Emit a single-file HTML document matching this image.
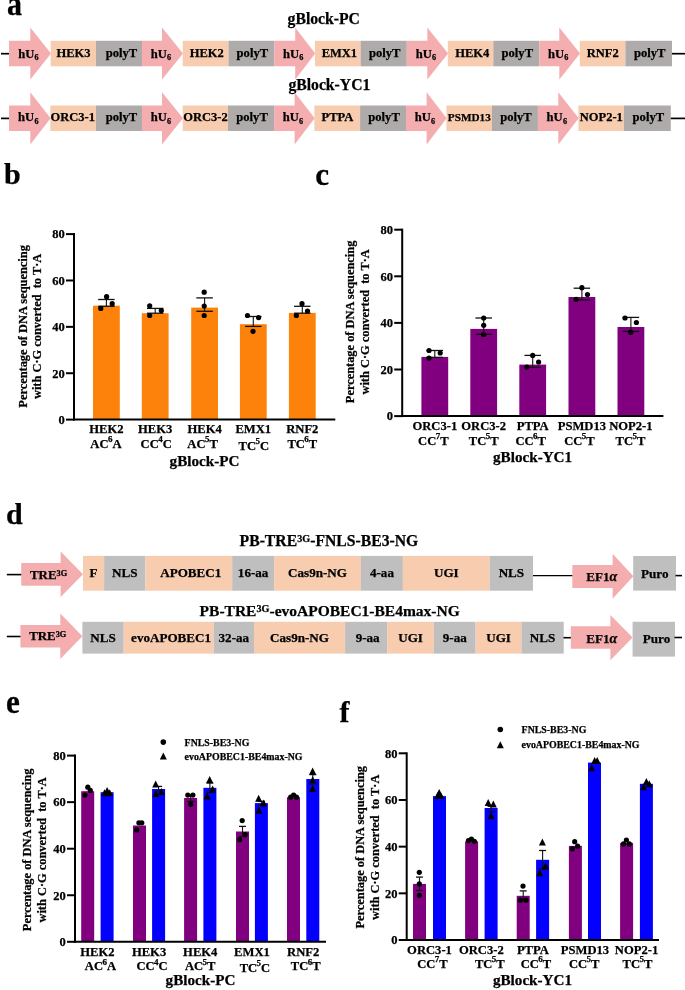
<!DOCTYPE html>
<html><head><meta charset="utf-8"><style>
html,body{margin:0;padding:0;background:#fff;}
svg{display:block;will-change:transform;font-family:"Liberation Serif",serif;font-weight:bold;}
text{font-family:"Liberation Serif",serif;font-weight:bold;stroke:#000;stroke-width:0.25px;paint-order:stroke;}
</style></head><body>
<svg width="685" height="990" viewBox="0 0 685 990">
<rect width="685" height="990" fill="#fff"/>
<text transform="translate(7,14.7) scale(1,1.09)" x="0" y="0" font-size="30">a</text>
<text x="287.60" y="24.10" font-size="15.7" text-anchor="start" >gBlock-PC</text>
<text x="288.40" y="90.10" font-size="15.7" text-anchor="start" >gBlock-YC1</text>
<line x1="1.00" y1="53.70" x2="9.50" y2="53.70" stroke="#000" stroke-width="1.7"/>
<line x1="671.50" y1="53.70" x2="685.00" y2="53.70" stroke="#000" stroke-width="1.7"/>
<polygon points="9.00,40.80 30.30,40.80 30.30,27.50 51.00,53.55 30.30,79.60 30.30,66.30 9.00,66.30" fill="#F4AEAF"/>
<rect x="50.70" y="40.80" width="45.30" height="25.50" fill="#F7CCAF"/>
<rect x="96.00" y="40.80" width="46.00" height="25.50" fill="#AFABAB"/>
<text x="28.50" y="57.80" font-size="12.6" text-anchor="middle">hU<tspan font-size="8.2" dy="2.4" dx="0.2">6</tspan></text>
<text x="73.50" y="56.60" font-size="12.5" text-anchor="middle" >HEK3</text>
<text x="121.50" y="56.60" font-size="12.6" text-anchor="middle" >polyT</text>
<polygon points="142.00,40.80 162.00,40.80 162.00,27.50 183.00,53.55 162.00,79.60 162.00,66.30 142.00,66.30" fill="#F4AEAF"/>
<rect x="182.70" y="40.80" width="45.80" height="25.50" fill="#F7CCAF"/>
<rect x="228.50" y="40.80" width="45.70" height="25.50" fill="#AFABAB"/>
<text x="161.00" y="57.80" font-size="12.6" text-anchor="middle">hU<tspan font-size="8.2" dy="2.4" dx="0.2">6</tspan></text>
<text x="206.75" y="56.60" font-size="12.5" text-anchor="middle" >HEK2</text>
<text x="252.35" y="56.60" font-size="12.6" text-anchor="middle" >polyT</text>
<polygon points="274.20,40.80 295.20,40.80 295.20,27.50 315.20,53.55 295.20,79.60 295.20,66.30 274.20,66.30" fill="#F4AEAF"/>
<rect x="314.90" y="40.80" width="45.70" height="25.50" fill="#F7CCAF"/>
<rect x="360.60" y="40.80" width="46.20" height="25.50" fill="#AFABAB"/>
<text x="293.20" y="57.80" font-size="12.6" text-anchor="middle">hU<tspan font-size="8.2" dy="2.4" dx="0.2">6</tspan></text>
<text x="339.40" y="56.60" font-size="12.5" text-anchor="middle" >EMX1</text>
<text x="384.70" y="56.60" font-size="12.6" text-anchor="middle" >polyT</text>
<polygon points="406.80,40.80 427.30,40.80 427.30,27.50 448.10,53.55 427.30,79.60 427.30,66.30 406.80,66.30" fill="#F4AEAF"/>
<rect x="447.80" y="40.80" width="45.50" height="25.50" fill="#F7CCAF"/>
<rect x="493.30" y="40.80" width="46.00" height="25.50" fill="#AFABAB"/>
<text x="425.95" y="57.80" font-size="12.6" text-anchor="middle">hU<tspan font-size="8.2" dy="2.4" dx="0.2">6</tspan></text>
<text x="472.20" y="56.60" font-size="12.5" text-anchor="middle" >HEK4</text>
<text x="517.30" y="56.60" font-size="12.6" text-anchor="middle" >polyT</text>
<polygon points="539.30,40.80 559.30,40.80 559.30,27.50 580.10,53.55 559.30,79.60 559.30,66.30 539.30,66.30" fill="#F4AEAF"/>
<rect x="579.80" y="40.80" width="45.60" height="25.50" fill="#F7CCAF"/>
<rect x="625.40" y="40.80" width="46.60" height="25.50" fill="#AFABAB"/>
<text x="558.20" y="57.80" font-size="12.6" text-anchor="middle">hU<tspan font-size="8.2" dy="2.4" dx="0.2">6</tspan></text>
<text x="602.75" y="56.60" font-size="12.5" text-anchor="middle" >RNF2</text>
<text x="649.70" y="56.60" font-size="12.6" text-anchor="middle" >polyT</text>
<line x1="1.00" y1="118.40" x2="9.50" y2="118.40" stroke="#000" stroke-width="1.7"/>
<line x1="670.30" y1="118.40" x2="685.00" y2="118.40" stroke="#000" stroke-width="1.7"/>
<polygon points="9.00,105.50 30.30,105.50 30.30,92.20 50.60,118.30 30.30,144.40 30.30,131.00 9.00,131.00" fill="#F4AEAF"/>
<rect x="50.30" y="105.50" width="45.70" height="25.50" fill="#F7CCAF"/>
<rect x="96.00" y="105.50" width="46.00" height="25.50" fill="#AFABAB"/>
<text x="28.30" y="121.40" font-size="12.6" text-anchor="middle">hU<tspan font-size="8.2" dy="2.4" dx="0.2">6</tspan></text>
<text x="72.70" y="121.30" font-size="12.5" text-anchor="middle" >ORC3-1</text>
<text x="121.50" y="121.30" font-size="12.6" text-anchor="middle" >polyT</text>
<polygon points="142.00,105.50 162.00,105.50 162.00,92.20 183.00,118.30 162.00,144.40 162.00,131.00 142.00,131.00" fill="#F4AEAF"/>
<rect x="182.70" y="105.50" width="45.30" height="25.50" fill="#F7CCAF"/>
<rect x="228.00" y="105.50" width="46.10" height="25.50" fill="#AFABAB"/>
<text x="161.00" y="121.40" font-size="12.6" text-anchor="middle">hU<tspan font-size="8.2" dy="2.4" dx="0.2">6</tspan></text>
<text x="205.50" y="121.30" font-size="12.5" text-anchor="middle" >ORC3-2</text>
<text x="252.05" y="121.30" font-size="12.6" text-anchor="middle" >polyT</text>
<polygon points="274.10,105.50 294.60,105.50 294.60,92.20 314.70,118.30 294.60,144.40 294.60,131.00 274.10,131.00" fill="#F4AEAF"/>
<rect x="314.40" y="105.50" width="45.70" height="25.50" fill="#F7CCAF"/>
<rect x="360.10" y="105.50" width="45.90" height="25.50" fill="#AFABAB"/>
<text x="292.90" y="121.40" font-size="12.6" text-anchor="middle">hU<tspan font-size="8.2" dy="2.4" dx="0.2">6</tspan></text>
<text x="337.40" y="121.30" font-size="12.5" text-anchor="middle" >PTPA</text>
<text x="384.05" y="121.30" font-size="12.6" text-anchor="middle" >polyT</text>
<polygon points="406.00,105.50 426.60,105.50 426.60,92.20 446.70,118.30 426.60,144.40 426.60,131.00 406.00,131.00" fill="#F4AEAF"/>
<rect x="446.40" y="105.50" width="45.50" height="25.50" fill="#F7CCAF"/>
<rect x="491.90" y="105.50" width="46.00" height="25.50" fill="#AFABAB"/>
<text x="424.85" y="121.40" font-size="12.6" text-anchor="middle">hU<tspan font-size="8.2" dy="2.4" dx="0.2">6</tspan></text>
<text x="469.30" y="121.30" font-size="11.2" text-anchor="middle" >PSMD13</text>
<text x="515.90" y="121.30" font-size="12.6" text-anchor="middle" >polyT</text>
<polygon points="537.90,105.50 558.30,105.50 558.30,92.20 578.70,118.30 558.30,144.40 558.30,131.00 537.90,131.00" fill="#F4AEAF"/>
<rect x="578.40" y="105.50" width="45.50" height="25.50" fill="#F7CCAF"/>
<rect x="623.90" y="105.50" width="46.90" height="25.50" fill="#AFABAB"/>
<text x="556.80" y="121.40" font-size="12.6" text-anchor="middle">hU<tspan font-size="8.2" dy="2.4" dx="0.2">6</tspan></text>
<text x="601.30" y="121.30" font-size="12.5" text-anchor="middle" >NOP2-1</text>
<text x="648.35" y="121.30" font-size="12.6" text-anchor="middle" >polyT</text>
<text x="4.00" y="184.20" font-size="30" text-anchor="start" >b</text>
<rect x="93.00" y="305.70" width="26.80" height="113.90" fill="#FD820B"/>
<line x1="106.40" y1="299.50" x2="106.40" y2="306.30" stroke="#111" stroke-width="1.1"/>
<line x1="98.15" y1="299.50" x2="114.65" y2="299.50" stroke="#111" stroke-width="1.3"/>
<line x1="98.15" y1="306.30" x2="114.65" y2="306.30" stroke="#111" stroke-width="1.3"/>
<circle cx="106.60" cy="296.70" r="2.6" fill="#000"/>
<circle cx="112.20" cy="303.70" r="2.6" fill="#000"/>
<circle cx="100.80" cy="308.40" r="2.6" fill="#000"/>
<rect x="141.80" y="313.20" width="26.80" height="106.40" fill="#FD820B"/>
<line x1="155.20" y1="308.40" x2="155.20" y2="313.20" stroke="#111" stroke-width="1.1"/>
<line x1="146.95" y1="308.40" x2="163.45" y2="308.40" stroke="#111" stroke-width="1.3"/>
<line x1="146.95" y1="313.20" x2="163.45" y2="313.20" stroke="#111" stroke-width="1.3"/>
<circle cx="149.70" cy="305.80" r="2.6" fill="#000"/>
<circle cx="161.30" cy="310.60" r="2.6" fill="#000"/>
<circle cx="149.70" cy="315.50" r="2.6" fill="#000"/>
<rect x="191.20" y="307.60" width="26.80" height="112.00" fill="#FD820B"/>
<line x1="204.60" y1="297.90" x2="204.60" y2="311.30" stroke="#111" stroke-width="1.1"/>
<line x1="196.35" y1="297.90" x2="212.85" y2="297.90" stroke="#111" stroke-width="1.3"/>
<line x1="196.35" y1="311.30" x2="212.85" y2="311.30" stroke="#111" stroke-width="1.3"/>
<circle cx="204.20" cy="292.20" r="2.6" fill="#000"/>
<circle cx="204.20" cy="306.00" r="2.6" fill="#000"/>
<circle cx="204.20" cy="315.50" r="2.6" fill="#000"/>
<rect x="239.90" y="324.20" width="26.80" height="95.40" fill="#FD820B"/>
<line x1="253.30" y1="316.50" x2="253.30" y2="326.40" stroke="#111" stroke-width="1.1"/>
<line x1="245.05" y1="316.50" x2="261.55" y2="316.50" stroke="#111" stroke-width="1.3"/>
<line x1="245.05" y1="326.40" x2="261.55" y2="326.40" stroke="#111" stroke-width="1.3"/>
<circle cx="247.50" cy="315.50" r="2.6" fill="#000"/>
<circle cx="258.60" cy="317.60" r="2.6" fill="#000"/>
<circle cx="253.00" cy="331.30" r="2.6" fill="#000"/>
<rect x="288.90" y="312.90" width="26.80" height="106.70" fill="#FD820B"/>
<line x1="302.30" y1="306.30" x2="302.30" y2="313.20" stroke="#111" stroke-width="1.1"/>
<line x1="294.05" y1="306.30" x2="310.55" y2="306.30" stroke="#111" stroke-width="1.3"/>
<line x1="294.05" y1="313.20" x2="310.55" y2="313.20" stroke="#111" stroke-width="1.3"/>
<circle cx="302.00" cy="303.70" r="2.6" fill="#000"/>
<circle cx="307.50" cy="311.00" r="2.6" fill="#000"/>
<circle cx="296.40" cy="315.50" r="2.6" fill="#000"/>
<line x1="74.00" y1="233.10" x2="74.00" y2="420.60" stroke="#000" stroke-width="2"/>
<line x1="73.00" y1="419.60" x2="335.30" y2="419.60" stroke="#000" stroke-width="2"/>
<line x1="66.00" y1="234.10" x2="74.00" y2="234.10" stroke="#000" stroke-width="2"/>
<text x="64.80" y="238.40" font-size="12.5" text-anchor="end" >80</text>
<line x1="66.00" y1="280.48" x2="74.00" y2="280.48" stroke="#000" stroke-width="2"/>
<text x="64.80" y="284.78" font-size="12.5" text-anchor="end" >60</text>
<line x1="66.00" y1="326.85" x2="74.00" y2="326.85" stroke="#000" stroke-width="2"/>
<text x="64.80" y="331.15" font-size="12.5" text-anchor="end" >40</text>
<line x1="66.00" y1="373.23" x2="74.00" y2="373.23" stroke="#000" stroke-width="2"/>
<text x="64.80" y="377.53" font-size="12.5" text-anchor="end" >20</text>
<line x1="66.00" y1="419.60" x2="74.00" y2="419.60" stroke="#000" stroke-width="2"/>
<text x="64.80" y="423.90" font-size="12.5" text-anchor="end" >0</text>
<text transform="translate(26.60,326.40) rotate(-90)" x="0" y="0" font-size="12.4" text-anchor="middle">Percentage of DNA sequencing</text>
<text transform="translate(41.10,326.40) rotate(-90)" x="0" y="0" font-size="12.4" text-anchor="middle" xml:space="preserve">with C·G converted  to T·A</text>
<text x="106.40" y="433.10" font-size="12.6" text-anchor="middle" >HEK2</text>
<text x="105.90" y="448.00" font-size="12.6" text-anchor="middle">AC<tspan font-size="9" dy="-5.8" dx="-0.6">6</tspan><tspan dy="5.8">A</tspan></text>
<text x="155.20" y="433.10" font-size="12.6" text-anchor="middle" >HEK3</text>
<text x="156.20" y="448.00" font-size="12.6" text-anchor="middle">CC<tspan font-size="9" dy="-5.8" dx="-0.6">4</tspan><tspan dy="5.8">C</tspan></text>
<text x="204.60" y="433.10" font-size="12.6" text-anchor="middle" >HEK4</text>
<text x="202.60" y="448.00" font-size="12.6" text-anchor="middle">AC<tspan font-size="9" dy="-5.8" dx="-0.6">5</tspan><tspan dy="5.8">T</tspan></text>
<text x="253.30" y="433.10" font-size="12.6" text-anchor="middle" >EMX1</text>
<text x="253.80" y="449.50" font-size="12.6" text-anchor="middle">TC<tspan font-size="9" dy="-5.8" dx="-0.6">5</tspan><tspan dy="5.8">C</tspan></text>
<text x="302.30" y="433.10" font-size="12.6" text-anchor="middle" >RNF2</text>
<text x="302.30" y="448.00" font-size="12.6" text-anchor="middle">TC<tspan font-size="9" dy="-5.8" dx="-0.6">6</tspan><tspan dy="5.8">T</tspan></text>
<text x="204.50" y="466.40" font-size="15.15" text-anchor="middle" >gBlock-PC</text>
<text transform="translate(315.2,185.1) scale(1.04,1.07)" x="0" y="0" font-size="30">c</text>
<rect x="421.40" y="356.90" width="26.80" height="59.20" fill="#800080"/>
<line x1="434.80" y1="350.50" x2="434.80" y2="357.40" stroke="#111" stroke-width="1.1"/>
<line x1="426.55" y1="350.50" x2="443.05" y2="350.50" stroke="#111" stroke-width="1.3"/>
<line x1="426.55" y1="357.40" x2="443.05" y2="357.40" stroke="#111" stroke-width="1.3"/>
<circle cx="429.00" cy="350.50" r="2.6" fill="#000"/>
<circle cx="440.20" cy="353.00" r="2.6" fill="#000"/>
<circle cx="429.00" cy="358.10" r="2.6" fill="#000"/>
<rect x="470.30" y="328.90" width="26.80" height="87.20" fill="#800080"/>
<line x1="483.70" y1="318.00" x2="483.70" y2="334.30" stroke="#111" stroke-width="1.1"/>
<line x1="475.45" y1="318.00" x2="491.95" y2="318.00" stroke="#111" stroke-width="1.3"/>
<line x1="475.45" y1="334.30" x2="491.95" y2="334.30" stroke="#111" stroke-width="1.3"/>
<circle cx="483.70" cy="318.00" r="2.6" fill="#000"/>
<circle cx="483.70" cy="325.30" r="2.6" fill="#000"/>
<circle cx="483.70" cy="334.50" r="2.6" fill="#000"/>
<rect x="519.30" y="364.60" width="26.80" height="51.50" fill="#800080"/>
<line x1="532.70" y1="355.40" x2="532.70" y2="367.20" stroke="#111" stroke-width="1.1"/>
<line x1="524.45" y1="355.40" x2="540.95" y2="355.40" stroke="#111" stroke-width="1.3"/>
<line x1="524.45" y1="367.20" x2="540.95" y2="367.20" stroke="#111" stroke-width="1.3"/>
<circle cx="532.70" cy="355.40" r="2.6" fill="#000"/>
<circle cx="538.60" cy="362.10" r="2.6" fill="#000"/>
<circle cx="526.90" cy="367.10" r="2.6" fill="#000"/>
<rect x="568.50" y="297.00" width="26.80" height="119.10" fill="#800080"/>
<line x1="581.90" y1="288.20" x2="581.90" y2="299.90" stroke="#111" stroke-width="1.1"/>
<line x1="573.65" y1="288.20" x2="590.15" y2="288.20" stroke="#111" stroke-width="1.3"/>
<line x1="573.65" y1="299.90" x2="590.15" y2="299.90" stroke="#111" stroke-width="1.3"/>
<circle cx="581.90" cy="287.70" r="2.6" fill="#000"/>
<circle cx="587.50" cy="294.50" r="2.6" fill="#000"/>
<circle cx="576.10" cy="299.30" r="2.6" fill="#000"/>
<rect x="617.50" y="327.00" width="26.80" height="89.10" fill="#800080"/>
<line x1="630.90" y1="317.40" x2="630.90" y2="331.40" stroke="#111" stroke-width="1.1"/>
<line x1="622.65" y1="317.40" x2="639.15" y2="317.40" stroke="#111" stroke-width="1.3"/>
<line x1="622.65" y1="331.40" x2="639.15" y2="331.40" stroke="#111" stroke-width="1.3"/>
<circle cx="625.00" cy="318.00" r="2.6" fill="#000"/>
<circle cx="636.40" cy="322.50" r="2.6" fill="#000"/>
<circle cx="630.70" cy="332.20" r="2.6" fill="#000"/>
<line x1="402.20" y1="228.70" x2="402.20" y2="417.10" stroke="#000" stroke-width="2"/>
<line x1="401.20" y1="416.10" x2="663.40" y2="416.10" stroke="#000" stroke-width="2"/>
<line x1="394.20" y1="229.70" x2="402.20" y2="229.70" stroke="#000" stroke-width="2"/>
<text x="393.00" y="234.00" font-size="12.5" text-anchor="end" >80</text>
<line x1="394.20" y1="276.30" x2="402.20" y2="276.30" stroke="#000" stroke-width="2"/>
<text x="393.00" y="280.60" font-size="12.5" text-anchor="end" >60</text>
<line x1="394.20" y1="322.90" x2="402.20" y2="322.90" stroke="#000" stroke-width="2"/>
<text x="393.00" y="327.20" font-size="12.5" text-anchor="end" >40</text>
<line x1="394.20" y1="369.50" x2="402.20" y2="369.50" stroke="#000" stroke-width="2"/>
<text x="393.00" y="373.80" font-size="12.5" text-anchor="end" >20</text>
<line x1="394.20" y1="416.10" x2="402.20" y2="416.10" stroke="#000" stroke-width="2"/>
<text x="393.00" y="420.40" font-size="12.5" text-anchor="end" >0</text>
<text transform="translate(354.10,321.90) rotate(-90)" x="0" y="0" font-size="12.4" text-anchor="middle">Percentage of DNA sequencing</text>
<text transform="translate(368.70,321.90) rotate(-90)" x="0" y="0" font-size="12.4" text-anchor="middle" xml:space="preserve">with C·G converted  to T·A</text>
<text x="434.80" y="429.70" font-size="12.6" text-anchor="middle" >ORC3-1</text>
<text x="433.30" y="444.90" font-size="12.6" text-anchor="middle">CC<tspan font-size="9" dy="-5.8" dx="-0.6">7</tspan><tspan dy="5.8">T</tspan></text>
<text x="483.70" y="429.70" font-size="12.6" text-anchor="middle" >ORC3-2</text>
<text x="483.70" y="444.90" font-size="12.6" text-anchor="middle">TC<tspan font-size="9" dy="-5.8" dx="-0.6">5</tspan><tspan dy="5.8">T</tspan></text>
<text x="532.70" y="429.70" font-size="12.6" text-anchor="middle" >PTPA</text>
<text x="530.70" y="444.90" font-size="12.6" text-anchor="middle">CC<tspan font-size="9" dy="-5.8" dx="-0.6">6</tspan><tspan dy="5.8">T</tspan></text>
<text x="581.90" y="429.70" font-size="12.6" text-anchor="middle" >PSMD13</text>
<text x="579.40" y="444.90" font-size="12.6" text-anchor="middle">CC<tspan font-size="9" dy="-5.8" dx="-0.6">5</tspan><tspan dy="5.8">T</tspan></text>
<text x="630.90" y="429.70" font-size="12.6" text-anchor="middle" >NOP2-1</text>
<text x="630.40" y="444.90" font-size="12.6" text-anchor="middle">TC<tspan font-size="9" dy="-5.8" dx="-0.6">5</tspan><tspan dy="5.8">T</tspan></text>
<text x="532.60" y="462.40" font-size="15.15" text-anchor="middle" >gBlock-YC1</text>
<text x="6.00" y="524.00" font-size="30" text-anchor="start" >d</text>
<text x="239.6" y="545.6" font-size="15.7">PB-TRE<tspan font-size="10.2" dy="-3.9">3G</tspan><tspan dy="3.9">-FNLS-BE3-NG</tspan></text>
<text x="199.6" y="616.2" font-size="15.5">PB-TRE<tspan font-size="10.2" dy="-3.9">3G</tspan><tspan dy="3.9">-evoAPOBEC1-BE4max-NG</tspan></text>
<line x1="6.80" y1="574.60" x2="22.00" y2="574.60" stroke="#000" stroke-width="1.6"/>
<polygon points="21.20,563.10 60.60,563.10 60.60,551.60 83.00,574.35 60.60,597.10 60.60,585.80 21.20,585.80" fill="#F4AEAF"/>
<text x="30.00" y="578.50" font-size="12.9">TRE<tspan font-size="8.3" dy="-3">3G</tspan></text>
<rect x="83.00" y="555.90" width="21.10" height="34.80" fill="#F7CCAF"/>
<text x="93.55" y="577.30" font-size="13.1" text-anchor="middle" >F</text>
<rect x="104.10" y="555.90" width="41.30" height="34.80" fill="#BFBFBF"/>
<text x="124.75" y="577.30" font-size="13.1" text-anchor="middle" >NLS</text>
<rect x="145.40" y="555.90" width="86.80" height="34.80" fill="#F7CCAF"/>
<text x="190.80" y="577.30" font-size="13.1" text-anchor="middle" >APOBEC1</text>
<rect x="232.20" y="555.90" width="41.90" height="34.80" fill="#BFBFBF"/>
<text x="253.15" y="577.30" font-size="13.1" text-anchor="middle" >16-aa</text>
<rect x="274.10" y="555.90" width="86.90" height="34.80" fill="#F7CCAF"/>
<text x="317.55" y="577.30" font-size="13.1" text-anchor="middle" >Cas9n-NG</text>
<rect x="361.00" y="555.90" width="41.90" height="34.80" fill="#BFBFBF"/>
<text x="381.95" y="577.30" font-size="13.1" text-anchor="middle" >4-aa</text>
<rect x="402.90" y="555.90" width="86.90" height="34.80" fill="#F7CCAF"/>
<text x="446.35" y="577.30" font-size="13.1" text-anchor="middle" >UGI</text>
<rect x="489.80" y="555.90" width="43.20" height="34.80" fill="#BFBFBF"/>
<text x="511.40" y="577.30" font-size="13.1" text-anchor="middle" >NLS</text>
<line x1="533.00" y1="575.60" x2="573.00" y2="575.60" stroke="#000" stroke-width="1.4"/>
<polygon points="572.30,565.10 612.60,565.10 612.60,553.80 633.40,576.30 612.60,598.80 612.60,587.90 572.30,587.90" fill="#F4AEAF"/>
<text x="601.80" y="580.70" font-size="13.1" text-anchor="middle" >EF1<tspan font-style="italic" font-size="14">α</tspan></text>
<rect x="633.20" y="556.00" width="42.80" height="34.60" fill="#BFBFBF"/>
<text x="654.80" y="577.80" font-size="13.1" text-anchor="middle" >Puro</text>
<line x1="675.50" y1="575.60" x2="682.00" y2="575.60" stroke="#000" stroke-width="1.6"/>
<line x1="6.80" y1="636.50" x2="21.00" y2="636.50" stroke="#000" stroke-width="1.6"/>
<polygon points="20.40,624.90 60.30,624.90 60.30,613.50 82.40,636.25 60.30,659.00 60.30,647.40 20.40,647.40" fill="#F4AEAF"/>
<text x="29.20" y="640.00" font-size="12.9">TRE<tspan font-size="8.3" dy="-3">3G</tspan></text>
<rect x="82.40" y="621.80" width="41.30" height="31.80" fill="#BFBFBF"/>
<text x="103.05" y="642.00" font-size="13.1" text-anchor="middle" >NLS</text>
<rect x="123.70" y="621.80" width="90.00" height="31.80" fill="#F7CCAF"/>
<text x="171.10" y="642.00" font-size="13.1" text-anchor="middle" >evoAPOBEC1</text>
<rect x="213.70" y="621.80" width="40.30" height="31.80" fill="#BFBFBF"/>
<text x="233.85" y="642.00" font-size="13.1" text-anchor="middle" >32-aa</text>
<rect x="254.00" y="621.80" width="91.10" height="31.80" fill="#F7CCAF"/>
<text x="299.55" y="642.00" font-size="13.1" text-anchor="middle" >Cas9n-NG</text>
<rect x="345.10" y="621.80" width="42.10" height="31.80" fill="#BFBFBF"/>
<text x="367.65" y="642.00" font-size="13.1" text-anchor="middle" >9-aa</text>
<rect x="387.20" y="621.80" width="46.70" height="31.80" fill="#F7CCAF"/>
<text x="410.55" y="642.00" font-size="13.1" text-anchor="middle" >UGI</text>
<rect x="433.90" y="621.80" width="41.70" height="31.80" fill="#BFBFBF"/>
<text x="454.75" y="642.00" font-size="13.1" text-anchor="middle" >9-aa</text>
<rect x="475.60" y="621.80" width="45.90" height="31.80" fill="#F7CCAF"/>
<text x="498.55" y="642.00" font-size="13.1" text-anchor="middle" >UGI</text>
<rect x="521.50" y="621.80" width="42.20" height="31.80" fill="#BFBFBF"/>
<text x="542.60" y="642.00" font-size="13.1" text-anchor="middle" >NLS</text>
<line x1="563.50" y1="637.70" x2="571.50" y2="637.70" stroke="#000" stroke-width="1.6"/>
<polygon points="570.80,626.30 610.40,626.30 610.40,614.90 632.60,637.55 610.40,660.20 610.40,648.70 570.80,648.70" fill="#F4AEAF"/>
<text x="601.80" y="642.50" font-size="13.1" text-anchor="middle" >EF1<tspan font-style="italic" font-size="14">α</tspan></text>
<rect x="632.60" y="621.80" width="42.40" height="34.80" fill="#BFBFBF"/>
<text x="656.50" y="643.00" font-size="13.1" text-anchor="middle" >Puro</text>
<line x1="674.50" y1="637.50" x2="682.00" y2="637.50" stroke="#000" stroke-width="1.6"/>
<text transform="translate(6,712.6) scale(1.04,1.1)" x="0" y="0" font-size="30">e</text>
<circle cx="163.30" cy="742.10" r="2.8" fill="#000"/>
<polygon points="159.80,759.60 166.80,759.60 163.30,752.60" fill="#000"/>
<text x="184.60" y="745.60" font-size="9.9" text-anchor="start" >FNLS-BE3-NG</text>
<text x="184.60" y="759.60" font-size="9.9" text-anchor="start" >evoAPOBEC1-BE4max-NG</text>
<rect x="81.20" y="791.20" width="13.00" height="150.60" fill="#800080"/>
<rect x="100.60" y="792.20" width="13.00" height="149.60" fill="#0400FF"/>
<circle cx="87.80" cy="787.20" r="2.6" fill="#000"/>
<circle cx="90.30" cy="790.40" r="2.6" fill="#000"/>
<circle cx="84.90" cy="795.10" r="2.6" fill="#000"/>
<polygon points="101.00,796.30 108.00,796.30 104.50,789.30" fill="#000"/>
<polygon points="106.20,796.30 113.20,796.30 109.70,789.30" fill="#000"/>
<polygon points="103.60,794.00 110.60,794.00 107.10,787.00" fill="#000"/>
<rect x="133.00" y="825.50" width="13.00" height="116.30" fill="#800080"/>
<rect x="152.10" y="789.00" width="13.00" height="152.80" fill="#0400FF"/>
<line x1="158.60" y1="786.40" x2="158.60" y2="791.50" stroke="#111" stroke-width="1.1"/>
<line x1="155.10" y1="786.40" x2="162.10" y2="786.40" stroke="#111" stroke-width="1.3"/>
<line x1="155.10" y1="791.50" x2="162.10" y2="791.50" stroke="#111" stroke-width="1.3"/>
<circle cx="138.90" cy="822.80" r="2.6" fill="#000"/>
<circle cx="141.80" cy="822.80" r="2.6" fill="#000"/>
<circle cx="136.70" cy="829.90" r="2.6" fill="#000"/>
<polygon points="152.20,787.40 159.20,787.40 155.70,780.40" fill="#000"/>
<polygon points="158.00,795.10 165.00,795.10 161.50,788.10" fill="#000"/>
<polygon points="152.40,796.90 159.40,796.90 155.90,789.90" fill="#000"/>
<rect x="184.10" y="798.00" width="13.00" height="143.80" fill="#800080"/>
<rect x="203.40" y="787.80" width="13.00" height="154.00" fill="#0400FF"/>
<line x1="190.60" y1="795.00" x2="190.60" y2="801.40" stroke="#111" stroke-width="1.1"/>
<line x1="187.10" y1="795.00" x2="194.10" y2="795.00" stroke="#111" stroke-width="1.3"/>
<line x1="187.10" y1="801.40" x2="194.10" y2="801.40" stroke="#111" stroke-width="1.3"/>
<line x1="209.90" y1="783.10" x2="209.90" y2="792.50" stroke="#111" stroke-width="1.1"/>
<line x1="206.40" y1="783.10" x2="213.40" y2="783.10" stroke="#111" stroke-width="1.3"/>
<line x1="206.40" y1="792.50" x2="213.40" y2="792.50" stroke="#111" stroke-width="1.3"/>
<circle cx="187.80" cy="795.10" r="2.6" fill="#000"/>
<circle cx="192.90" cy="795.10" r="2.6" fill="#000"/>
<circle cx="190.70" cy="804.30" r="2.6" fill="#000"/>
<polygon points="206.20,783.00 213.20,783.00 209.70,776.00" fill="#000"/>
<polygon points="209.10,792.50 216.10,792.50 212.60,785.50" fill="#000"/>
<polygon points="203.70,799.50 210.70,799.50 207.20,792.50" fill="#000"/>
<rect x="236.00" y="831.50" width="13.00" height="110.30" fill="#800080"/>
<rect x="254.90" y="803.10" width="13.00" height="138.70" fill="#0400FF"/>
<line x1="242.50" y1="826.40" x2="242.50" y2="836.60" stroke="#111" stroke-width="1.1"/>
<line x1="239.00" y1="826.40" x2="246.00" y2="826.40" stroke="#111" stroke-width="1.3"/>
<line x1="239.00" y1="836.60" x2="246.00" y2="836.60" stroke="#111" stroke-width="1.3"/>
<line x1="261.40" y1="801.30" x2="261.40" y2="805.00" stroke="#111" stroke-width="1.1"/>
<line x1="257.90" y1="801.30" x2="264.90" y2="801.30" stroke="#111" stroke-width="1.3"/>
<line x1="257.90" y1="805.00" x2="264.90" y2="805.00" stroke="#111" stroke-width="1.3"/>
<circle cx="242.20" cy="820.60" r="2.6" fill="#000"/>
<circle cx="245.10" cy="834.70" r="2.6" fill="#000"/>
<circle cx="239.60" cy="839.60" r="2.6" fill="#000"/>
<polygon points="255.10,801.70 262.10,801.70 258.60,794.70" fill="#000"/>
<polygon points="260.20,806.60 267.20,806.60 263.70,799.60" fill="#000"/>
<polygon points="255.40,813.50 262.40,813.50 258.90,806.50" fill="#000"/>
<rect x="287.00" y="797.20" width="13.00" height="144.60" fill="#800080"/>
<rect x="306.30" y="779.00" width="13.00" height="162.80" fill="#0400FF"/>
<line x1="312.80" y1="774.60" x2="312.80" y2="784.10" stroke="#111" stroke-width="1.1"/>
<line x1="309.30" y1="774.60" x2="316.30" y2="774.60" stroke="#111" stroke-width="1.3"/>
<line x1="309.30" y1="784.10" x2="316.30" y2="784.10" stroke="#111" stroke-width="1.3"/>
<circle cx="290.70" cy="797.20" r="2.6" fill="#000"/>
<circle cx="293.60" cy="795.00" r="2.6" fill="#000"/>
<circle cx="296.50" cy="797.20" r="2.6" fill="#000"/>
<polygon points="309.10,774.50 316.10,774.50 312.60,767.50" fill="#000"/>
<polygon points="309.10,783.20 316.10,783.20 312.60,776.20" fill="#000"/>
<polygon points="309.10,792.00 316.10,792.00 312.60,785.00" fill="#000"/>
<line x1="75.00" y1="754.60" x2="75.00" y2="942.80" stroke="#000" stroke-width="2"/>
<line x1="74.00" y1="941.80" x2="326.00" y2="941.80" stroke="#000" stroke-width="2"/>
<line x1="67.00" y1="755.60" x2="75.00" y2="755.60" stroke="#000" stroke-width="2"/>
<text x="65.80" y="759.90" font-size="12.5" text-anchor="end" >80</text>
<line x1="67.00" y1="802.15" x2="75.00" y2="802.15" stroke="#000" stroke-width="2"/>
<text x="65.80" y="806.45" font-size="12.5" text-anchor="end" >60</text>
<line x1="67.00" y1="848.70" x2="75.00" y2="848.70" stroke="#000" stroke-width="2"/>
<text x="65.80" y="853.00" font-size="12.5" text-anchor="end" >40</text>
<line x1="67.00" y1="895.25" x2="75.00" y2="895.25" stroke="#000" stroke-width="2"/>
<text x="65.80" y="899.55" font-size="12.5" text-anchor="end" >20</text>
<line x1="67.00" y1="941.80" x2="75.00" y2="941.80" stroke="#000" stroke-width="2"/>
<text x="65.80" y="946.10" font-size="12.5" text-anchor="end" >0</text>
<text transform="translate(30.90,849.90) rotate(-90)" x="0" y="0" font-size="12.4" text-anchor="middle">Percentage of DNA sequencing</text>
<text transform="translate(45.90,849.90) rotate(-90)" x="0" y="0" font-size="12.4" text-anchor="middle" xml:space="preserve">with C·G converted  to T·A</text>
<text x="97.40" y="955.50" font-size="12.6" text-anchor="middle" >HEK2</text>
<text x="100.40" y="970.30" font-size="12.6" text-anchor="middle">AC<tspan font-size="9" dy="-5.8" dx="-0.6">6</tspan><tspan dy="5.8">A</tspan></text>
<text x="149.05" y="955.50" font-size="12.6" text-anchor="middle" >HEK3</text>
<text x="152.05" y="970.30" font-size="12.6" text-anchor="middle">CC<tspan font-size="9" dy="-5.8" dx="-0.6">4</tspan><tspan dy="5.8">C</tspan></text>
<text x="200.25" y="955.50" font-size="12.6" text-anchor="middle" >HEK4</text>
<text x="200.25" y="970.30" font-size="12.6" text-anchor="middle">AC<tspan font-size="9" dy="-5.8" dx="-0.6">5</tspan><tspan dy="5.8">T</tspan></text>
<text x="251.95" y="955.50" font-size="12.6" text-anchor="middle" >EMX1</text>
<text x="254.95" y="971.80" font-size="12.6" text-anchor="middle">TC<tspan font-size="9" dy="-5.8" dx="-0.6">5</tspan><tspan dy="5.8">C</tspan></text>
<text x="303.15" y="955.50" font-size="12.6" text-anchor="middle" >RNF2</text>
<text x="305.65" y="970.30" font-size="12.6" text-anchor="middle">TC<tspan font-size="9" dy="-5.8" dx="-0.6">6</tspan><tspan dy="5.8">T</tspan></text>
<text x="200.50" y="985.20" font-size="15.15" text-anchor="middle" >gBlock-PC</text>
<text x="339.50" y="721.80" font-size="30" text-anchor="start" >f</text>
<circle cx="500.30" cy="729.50" r="2.8" fill="#000"/>
<polygon points="496.80,748.20 503.80,748.20 500.30,741.20" fill="#000"/>
<text x="521.60" y="732.50" font-size="9.9" text-anchor="start" >FNLS-BE3-NG</text>
<text x="521.60" y="747.70" font-size="9.9" text-anchor="start" >evoAPOBEC1-BE4max-NG</text>
<rect x="413.00" y="883.90" width="13.00" height="56.10" fill="#800080"/>
<rect x="433.00" y="796.10" width="13.00" height="143.90" fill="#0400FF"/>
<line x1="419.50" y1="877.10" x2="419.50" y2="890.50" stroke="#111" stroke-width="1.1"/>
<line x1="416.00" y1="877.10" x2="423.00" y2="877.10" stroke="#111" stroke-width="1.3"/>
<line x1="416.00" y1="890.50" x2="423.00" y2="890.50" stroke="#111" stroke-width="1.3"/>
<circle cx="419.30" cy="872.30" r="2.6" fill="#000"/>
<circle cx="419.30" cy="883.90" r="2.6" fill="#000"/>
<circle cx="419.30" cy="895.30" r="2.6" fill="#000"/>
<polygon points="434.10,799.10 441.10,799.10 437.60,792.10" fill="#000"/>
<polygon points="437.30,799.10 444.30,799.10 440.80,792.10" fill="#000"/>
<polygon points="435.70,795.90 442.70,795.90 439.20,788.90" fill="#000"/>
<rect x="465.10" y="841.30" width="13.00" height="98.70" fill="#800080"/>
<rect x="484.60" y="808.00" width="13.00" height="132.00" fill="#0400FF"/>
<line x1="491.10" y1="806.30" x2="491.10" y2="811.80" stroke="#111" stroke-width="1.1"/>
<line x1="487.60" y1="806.30" x2="494.60" y2="806.30" stroke="#111" stroke-width="1.3"/>
<line x1="487.60" y1="811.80" x2="494.60" y2="811.80" stroke="#111" stroke-width="1.3"/>
<circle cx="468.50" cy="840.60" r="2.6" fill="#000"/>
<circle cx="471.40" cy="839.10" r="2.6" fill="#000"/>
<circle cx="474.30" cy="841.30" r="2.6" fill="#000"/>
<polygon points="484.70,806.10 491.70,806.10 488.20,799.10" fill="#000"/>
<polygon points="489.80,807.60 496.80,807.60 493.30,800.60" fill="#000"/>
<polygon points="487.60,819.30 494.60,819.30 491.10,812.30" fill="#000"/>
<rect x="516.70" y="895.80" width="13.00" height="44.20" fill="#800080"/>
<rect x="536.10" y="859.80" width="13.00" height="80.20" fill="#0400FF"/>
<line x1="523.20" y1="890.90" x2="523.20" y2="900.50" stroke="#111" stroke-width="1.1"/>
<line x1="519.70" y1="890.90" x2="526.70" y2="890.90" stroke="#111" stroke-width="1.3"/>
<line x1="519.70" y1="900.50" x2="526.70" y2="900.50" stroke="#111" stroke-width="1.3"/>
<line x1="542.60" y1="850.50" x2="542.60" y2="869.00" stroke="#111" stroke-width="1.1"/>
<line x1="539.10" y1="850.50" x2="546.10" y2="850.50" stroke="#111" stroke-width="1.3"/>
<line x1="539.10" y1="869.00" x2="546.10" y2="869.00" stroke="#111" stroke-width="1.3"/>
<circle cx="523.00" cy="886.10" r="2.6" fill="#000"/>
<circle cx="520.30" cy="900.20" r="2.6" fill="#000"/>
<circle cx="526.00" cy="900.20" r="2.6" fill="#000"/>
<polygon points="538.90,845.60 545.90,845.60 542.40,838.60" fill="#000"/>
<polygon points="542.00,869.40 549.00,869.40 545.50,862.40" fill="#000"/>
<polygon points="536.20,876.20 543.20,876.20 539.70,869.20" fill="#000"/>
<rect x="568.90" y="845.90" width="13.00" height="94.10" fill="#800080"/>
<rect x="588.00" y="762.60" width="13.00" height="177.40" fill="#0400FF"/>
<circle cx="574.70" cy="841.70" r="2.6" fill="#000"/>
<circle cx="577.60" cy="846.20" r="2.6" fill="#000"/>
<circle cx="572.40" cy="848.80" r="2.6" fill="#000"/>
<polygon points="591.10,763.90 598.10,763.90 594.60,756.90" fill="#000"/>
<polygon points="593.70,763.90 600.70,763.90 597.20,756.90" fill="#000"/>
<polygon points="588.20,771.20 595.20,771.20 591.70,764.20" fill="#000"/>
<rect x="620.10" y="842.90" width="13.00" height="97.10" fill="#800080"/>
<rect x="639.90" y="783.80" width="13.00" height="156.20" fill="#0400FF"/>
<circle cx="626.40" cy="840.00" r="2.6" fill="#000"/>
<circle cx="623.50" cy="843.90" r="2.6" fill="#000"/>
<circle cx="629.30" cy="843.90" r="2.6" fill="#000"/>
<polygon points="642.90,785.10 649.90,785.10 646.40,778.10" fill="#000"/>
<polygon points="645.80,787.30 652.80,787.30 649.30,780.30" fill="#000"/>
<polygon points="640.00,790.20 647.00,790.20 643.50,783.20" fill="#000"/>
<line x1="406.70" y1="752.30" x2="406.70" y2="941.00" stroke="#000" stroke-width="2"/>
<line x1="405.70" y1="940.00" x2="659.00" y2="940.00" stroke="#000" stroke-width="2"/>
<line x1="398.70" y1="753.30" x2="406.70" y2="753.30" stroke="#000" stroke-width="2"/>
<text x="397.50" y="757.60" font-size="12.5" text-anchor="end" >80</text>
<line x1="398.70" y1="799.97" x2="406.70" y2="799.97" stroke="#000" stroke-width="2"/>
<text x="397.50" y="804.27" font-size="12.5" text-anchor="end" >60</text>
<line x1="398.70" y1="846.65" x2="406.70" y2="846.65" stroke="#000" stroke-width="2"/>
<text x="397.50" y="850.95" font-size="12.5" text-anchor="end" >40</text>
<line x1="398.70" y1="893.33" x2="406.70" y2="893.33" stroke="#000" stroke-width="2"/>
<text x="397.50" y="897.62" font-size="12.5" text-anchor="end" >20</text>
<line x1="398.70" y1="940.00" x2="406.70" y2="940.00" stroke="#000" stroke-width="2"/>
<text x="397.50" y="944.30" font-size="12.5" text-anchor="end" >0</text>
<text transform="translate(364.20,847.30) rotate(-90)" x="0" y="0" font-size="12.4" text-anchor="middle">Percentage of DNA sequencing</text>
<text transform="translate(379.00,847.30) rotate(-90)" x="0" y="0" font-size="12.4" text-anchor="middle" xml:space="preserve">with C·G converted  to T·A</text>
<text x="429.50" y="953.90" font-size="12.6" text-anchor="middle" >ORC3-1</text>
<text x="432.50" y="967.70" font-size="12.6" text-anchor="middle">CC<tspan font-size="9" dy="-5.8" dx="-0.6">7</tspan><tspan dy="5.8">T</tspan></text>
<text x="481.35" y="953.90" font-size="12.6" text-anchor="middle" >ORC3-2</text>
<text x="489.85" y="967.70" font-size="12.6" text-anchor="middle">TC<tspan font-size="9" dy="-5.8" dx="-0.6">5</tspan><tspan dy="5.8">T</tspan></text>
<text x="532.90" y="953.90" font-size="12.6" text-anchor="middle" >PTPA</text>
<text x="535.90" y="967.70" font-size="12.6" text-anchor="middle">CC<tspan font-size="9" dy="-5.8" dx="-0.6">6</tspan><tspan dy="5.8">T</tspan></text>
<text x="584.95" y="953.90" font-size="12.6" text-anchor="middle" >PSMD13</text>
<text x="584.25" y="967.70" font-size="12.6" text-anchor="middle">CC<tspan font-size="9" dy="-5.8" dx="-0.6">5</tspan><tspan dy="5.8">T</tspan></text>
<text x="636.50" y="953.90" font-size="12.6" text-anchor="middle" >NOP2-1</text>
<text x="637.50" y="967.70" font-size="12.6" text-anchor="middle">TC<tspan font-size="9" dy="-5.8" dx="-0.6">5</tspan><tspan dy="5.8">T</tspan></text>
<text x="532.50" y="984.70" font-size="15.15" text-anchor="middle" >gBlock-YC1</text>
</svg>
</body></html>
